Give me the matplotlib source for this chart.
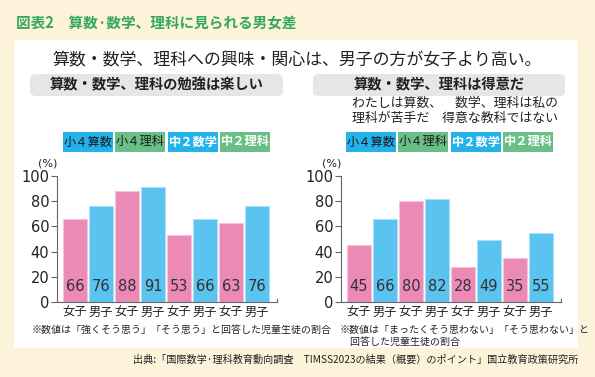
import matplotlib
matplotlib.use("Agg")
import matplotlib.pyplot as plt
from matplotlib.patches import FancyBboxPatch, Rectangle

plt.rcParams['font.family'] = ['Noto Sans CJK JP', 'DejaVu Sans']

# ---- data ----
genders = ["女子", "男子", "女子", "男子", "女子", "男子", "女子", "男子"]
groups = ["小４算数", "小４理科", "中２数学", "中２理科"]
enjoy_values = [66, 76, 88, 91, 53, 66, 63, 76]
good_at_values = [45, 66, 80, 82, 28, 49, 35, 55]
y_ticks = [0, 20, 40, 60, 80, 100]

W, H = 595, 377
PINK = "#ea8ab5"
PINK_EDGE = "#f6c3da"
BLUE = "#5ac3ef"
BLUE_EDGE = "#a9e0f7"
LEG_BLUE = "#22b3ea"
LEG_GREEN = "#6abf86"
GREEN_TITLE = "#36a85e"
BG = "#fdf3da"

fig = plt.figure(figsize=(W / 100, H / 100), dpi=100)
fig.patch.set_facecolor(BG)


def fx(x):
    return x / W


def fy(y):
    return 1 - y / H


# white panel
fig.patches.append(Rectangle((fx(14), fy(348)), fx(578) - fx(14), fy(40) - fy(348),
                             transform=fig.transFigure, facecolor="white", edgecolor="none", zorder=-5))

fig.text(fx(16), fy(22), "図表2　算数·数学、理科に見られる男女差", color=GREEN_TITLE,
         fontsize=10.5, fontweight="bold", va="center", ha="left")
fig.text(fx(297), fy(60), "算数・数学、理科への興味・関心は、男子の方が女子より高い。",
         fontsize=12.2, va="center", ha="center", color="#222222")

# gray heading boxes
for x0, x1, txt in [(30, 283, "算数・数学、理科の勉強は楽しい"), (313, 565, "算数・数学、理科は得意だ")]:
    fig.patches.append(FancyBboxPatch((fx(x0), fy(96)), fx(x1) - fx(x0), fy(74) - fy(96),
                                      boxstyle="round,pad=0,rounding_size=0.012",
                                      transform=fig.transFigure, facecolor="#e6e6e6",
                                      edgecolor="none", zorder=-4))
    fig.text(fx((x0 + x1) / 2), fy(85), txt, fontsize=10.3, fontweight="bold",
             ha="center", va="center", color="#222222")

fig.text(fx(455), fy(103), "わたしは算数、　数学、理科は私の", fontsize=9.3, ha="center", va="center", color="#222222")
fig.text(fx(455), fy(118), "理科が苦手だ　得意な教科ではない", fontsize=9.3, ha="center", va="center", color="#222222")


def legend(x_starts):
    cols = [LEG_BLUE, LEG_GREEN, LEG_BLUE, LEG_GREEN]
    tcols = ["#1a1a1a", "#1a1a1a", "white", "white"]
    for i, g in enumerate(groups):
        x0 = x_starts[i]
        fig.patches.append(Rectangle((fx(x0), fy(152)), fx(50), fy(132) - fy(152),
                                     transform=fig.transFigure, facecolor=cols[i],
                                     edgecolor="none", zorder=-4))
        fig.text(fx(x0 + 25), fy(142), g, fontsize=8.8, ha="center", va="center", color=tcols[i],
                 fontweight="bold" if i >= 2 else "normal")


legend([63, 115, 168, 220])
legend([346, 398, 451, 503])


def panel(x_axis, values, note_lines, note_x):
    bar_px = 26.0
    first_left = x_axis + 6
    c0 = first_left + 12
    right_end = x_axis + 220
    xl = -(c0 - x_axis) / bar_px
    xr = (right_end - c0) / bar_px
    ax = fig.add_axes([fx(x_axis), fy(302), fx(220), fy(176) - fy(302)])
    ax.set_facecolor("none")
    ax.set_xlim(xl, xr)
    ax.set_ylim(0, 100)
    xs = list(range(len(values)))
    colors = [PINK if g == "女子" else BLUE for g in genders]
    edges = [PINK_EDGE if g == "女子" else BLUE_EDGE for g in genders]
    ax.bar(xs, values, width=24 / 26, color=colors, edgecolor=edges, linewidth=0.8)
    for x, v in zip(xs, values):
        ax.text(x, 12, str(v), ha="center", va="center", fontsize=10.5, color="#333333",
                family="DejaVu Sans")
    for s in ["top", "right"]:
        ax.spines[s].set_visible(False)
    for s in ["left", "bottom"]:
        ax.spines[s].set_color("#666666")
        ax.spines[s].set_linewidth(0.8)
    ax.set_yticks(y_ticks)
    ax.set_yticklabels([str(t) for t in y_ticks], fontsize=10.5, family="DejaVu Sans", color="#222222")
    ax.tick_params(axis="y", length=4, width=0.8, color="#666666", pad=1.5)
    ax.set_xticks(xs)
    ax.set_xticklabels(genders, fontsize=8.8, color="#222222")
    ax.tick_params(axis="x", length=0, pad=2.5)
    ax.plot([xr, xr], [0, 2.5], color="#666666", lw=0.8, clip_on=False)
    fig.text(fx(x_axis - 9), fy(164), "(%)", ha="center", va="center", fontsize=8,
             family="DejaVu Sans", color="#222222")
    for i, line in enumerate(note_lines):
        fig.text(fx(note_x), fy(330 + i * 12), line, fontsize=7.2, ha="left", va="center", color="#222222")
    return ax


panel(57, enjoy_values, ["※数値は「強くそう思う」「そう思う」と回答した児童生徒の割合"], 32)
panel(341, good_at_values, ["※数値は「まったくそう思わない」「そう思わない」と", "　回答した児童生徒の割合"], 340)

fig.text(fx(578), fy(360), "出典:「国際数学·理科教育動向調査　TIMSS2023の結果（概要）のポイント」国立教育政策研究所",
         fontsize=7.3, ha="right", va="center", color="#222222")

fig.savefig("out.png", dpi=100, facecolor=BG)
